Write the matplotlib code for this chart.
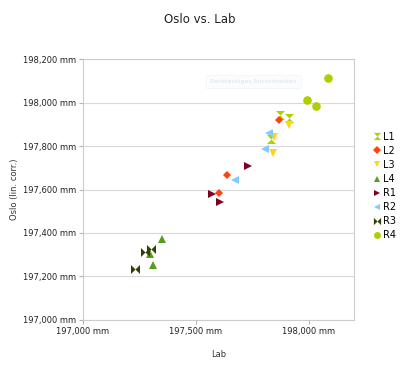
import matplotlib.pyplot as plt
import numpy as np
from matplotlib.path import Path
from matplotlib.ticker import FuncFormatter, MultipleLocator

# series (mm)
names = ["L1", "L2", "L3", "L4", "R1", "R2", "R3", "R4"]
lab = {
    "L1": [197872, 197913, 197832],
    "L2": [197869, 197640, 197602],
    "L3": [197912, 197844, 197842],
    "L4": [197351, 197296, 197311],
    "R1": [197730, 197570, 197609],
    "R2": [197822, 197804, 197674],
    "R3": [197276, 197300, 197231],
    "R4": [198083, 197991, 198031],
}
oslo = {
    "L1": [197941, 197928, 197834],
    "L2": [197918, 197665, 197585],
    "L3": [197897, 197843, 197769],
    "L4": [197374, 197305, 197251],
    "R1": [197708, 197580, 197541],
    "R2": [197858, 197788, 197646],
    "R3": [197314, 197326, 197235],
    "R4": [198115, 198011, 197984],
}
colors = ["#aecf00", "#ff420e", "#ffd320", "#579d1c",
          "#7e0021", "#83caff", "#314004", "#aecf00"]

hourglass = Path([(-1, 1), (1, 1), (0, 0), (1, -1), (-1, -1), (0, 0), (-1, 1)],
                 [Path.MOVETO] + [Path.LINETO] * 5 + [Path.CLOSEPOLY])
bowtie = Path([(-1, 1), (0, 0), (1, 1), (1, -1), (0, 0), (-1, -1), (-1, 1)],
              [Path.MOVETO] + [Path.LINETO] * 5 + [Path.CLOSEPOLY])
markers = [hourglass, "D", "v", "^", ">", "<", bowtie, "o"]
sizes = [6.5, 4.5, 6, 6, 6, 6, 6.5, 6.2]

fig = plt.figure(figsize=(4, 3.72), dpi=100)
ax = fig.add_axes([0.207, 0.140, 0.678, 0.701])

for n, c, m, s in zip(names, colors, markers, sizes):
    ax.plot(lab[n], oslo[n], linestyle="none", marker=m, color=c,
            markersize=s, markeredgewidth=0, label=n)

ax.set_xlim(197000, 198200)
ax.set_ylim(197000, 198200)
ax.xaxis.set_major_locator(MultipleLocator(500))
ax.yaxis.set_major_locator(MultipleLocator(200))
fmt = FuncFormatter(lambda v, p: "{:,.0f} mm".format(v))
ax.xaxis.set_major_formatter(fmt)
ax.yaxis.set_major_formatter(fmt)
ax.tick_params(labelsize=6, length=3, color="#b3b3b3", width=0.8, pad=2,
               labelcolor="#222222")
ax.grid(axis="y", color="#d9d9d9", linewidth=0.8)
ax.set_axisbelow(True)
for sp in ax.spines.values():
    sp.set_color("#cccccc")
    sp.set_linewidth(0.8)

ax.set_xlabel("Lab", fontsize=6, color="#333333", va="center")
ax.xaxis.set_label_coords(0.5, -0.134)
ax.set_ylabel("Oslo (lin. corr.)", fontsize=6, color="#333333", va="center")
ax.yaxis.set_label_coords(-0.253, 0.5)
fig.suptitle("Oslo vs. Lab", x=0.5, y=0.965, fontsize=8.5, color="#222222")

# faint tooltip left on the screenshot
ax.text(0.47, 0.915, "Rechteckiges Ausschneiden", transform=ax.transAxes,
        fontsize=4, color="#e6eaf2", fontweight="bold", va="center",
        bbox=dict(boxstyle="square,pad=0.7", fc="#fbfcfe", ec="#f2f4f8", lw=0.5))

ax.legend(loc="center left", bbox_to_anchor=(0.922, 0.50),
          bbox_transform=fig.transFigure, frameon=False, fontsize=7,
          handlelength=0.8, handletextpad=0.3, labelspacing=0.42,
          borderaxespad=0, markerscale=0.8)

fig.savefig("out.png", dpi=100)
